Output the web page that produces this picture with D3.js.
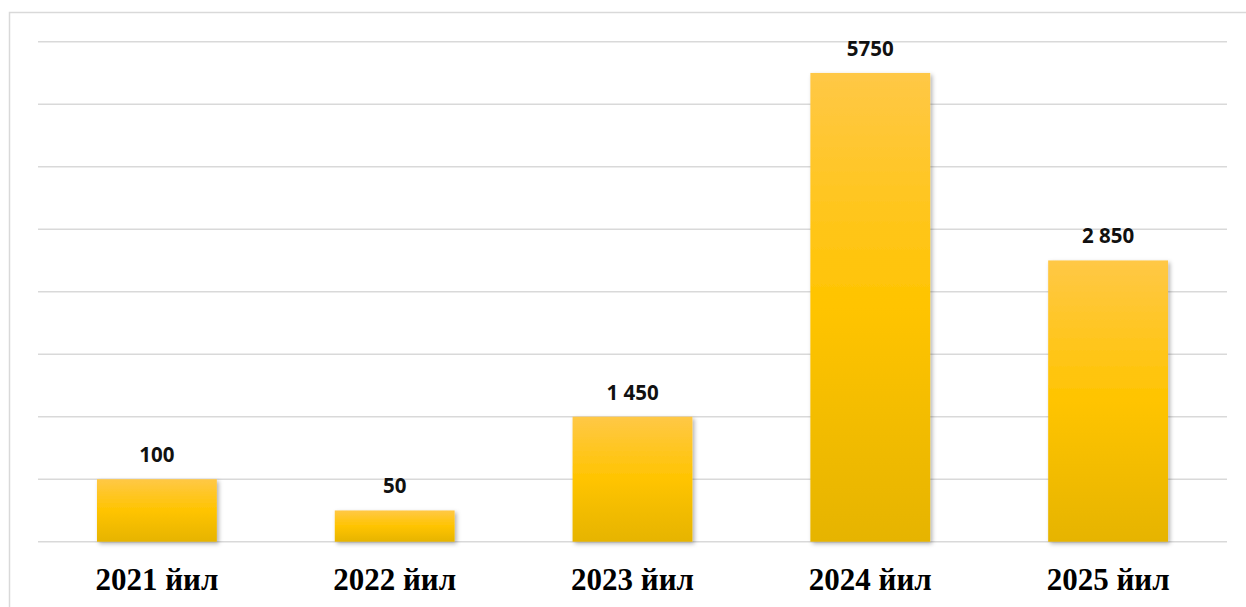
<!DOCTYPE html>
<html>
<head>
<meta charset="utf-8">
<script src="https://cdn.jsdelivr.net/npm/d3@7"></script>
<style>
  body { margin: 0; background: #fff; }
</style>
</head>
<body>
<div id="viz"></div>
<script>
// categories and the printed value labels
const years = ["2021 йил", "2022 йил", "2023 йил", "2024 йил", "2025 йил"]
const valueLabels = ["100", "50", "1 450", "5750", "2 850"]
// bar heights as drawn in the picture (grid units, 8 gridlines up)
const barHeights = [1, 0.5, 2, 7.5, 4.5]
const gridTicks = [0, 1, 2, 3, 4, 5, 6, 7, 8]

const width = 1246
const height = 607
const margin = {top: 41.7, right: 19, bottom: 65.3, left: 38}

const svg = d3.select("#viz").append("svg").attr("width", width).attr("height", height)

const defs = svg.append("defs")
const grad = defs.append("linearGradient").attr("id", "barGrad")
    .attr("x1", 0).attr("y1", 0).attr("x2", 0).attr("y2", 1)
grad.append("stop").attr("offset", "0%").attr("stop-color", "#ffc846")
grad.append("stop").attr("offset", "50%").attr("stop-color", "#ffc400")
grad.append("stop").attr("offset", "100%").attr("stop-color", "#e6b400")

const shadow = defs.append("filter").attr("id", "shadow")
    .attr("x", "-10%").attr("y", "-10%").attr("width", "130%").attr("height", "130%")
shadow.append("feDropShadow").attr("dx", 2).attr("dy", 2).attr("stdDeviation", 2)
    .attr("flood-color", "#000").attr("flood-opacity", 0.3)

// outer frame
svg.append("rect").attr("x", 9.5).attr("y", 12.5).attr("width", width).attr("height", height)
    .attr("fill", "none").attr("stroke", "#d9d9d9").attr("stroke-width", 1.5)

const innerW = width - margin.left - margin.right
const innerH = height - margin.top - margin.bottom

const wrapper = svg.append("g").attr("transform", `translate(${margin.left},${margin.top})`)

const xScale = d3.scaleBand()
    .domain(years)
    .range([0, innerW])
    .paddingInner(0.496)
    .paddingOuter(0.248)

const yScale = d3.scaleLinear()
    .domain([0, 8])
    .range([innerH, 0])

// gridlines
wrapper.append("g")
    .selectAll("line")
    .data(gridTicks)
    .join("line")
    .attr("x1", 0)
    .attr("x2", innerW)
    .attr("y1", d => yScale(d))
    .attr("y2", d => yScale(d))
    .attr("stroke", "#d9d9d9")
    .attr("stroke-width", 1.5)

// bars
wrapper.append("g")
    .selectAll("rect")
    .data(barHeights)
    .join("rect")
    .attr("x", (d, i) => xScale(years[i]))
    .attr("y", d => yScale(d))
    .attr("width", xScale.bandwidth())
    .attr("height", d => innerH - yScale(d))
    .attr("fill", "url(#barGrad)")
    .attr("filter", "url(#shadow)")

// value labels
wrapper.append("g")
    .selectAll("text")
    .data(barHeights)
    .join("text")
    .attr("x", (d, i) => xScale(years[i]) + xScale.bandwidth() / 2)
    .attr("y", d => yScale(d) - 17)
    .attr("text-anchor", "middle")
    .attr("font-family", "'Open Sans', sans-serif")
    .attr("font-weight", "bold")
    .attr("font-size", 20.5)
    .attr("fill", "#111")
    .text((d, i) => valueLabels[i])

// category axis
const xAxis = d3.axisBottom(xScale).tickSize(0).tickPadding(0)
const xg = wrapper.append("g").attr("transform", `translate(0,${innerH})`).call(xAxis)
xg.select(".domain").remove()
xg.selectAll("text")
    .attr("dy", null)
    .attr("y", 48.5)
    .attr("font-family", "'Liberation Serif', 'Times New Roman', serif")
    .attr("font-weight", "bold")
    .attr("font-size", 31)
    .attr("fill", "#000")
</script>
</body>
</html>
